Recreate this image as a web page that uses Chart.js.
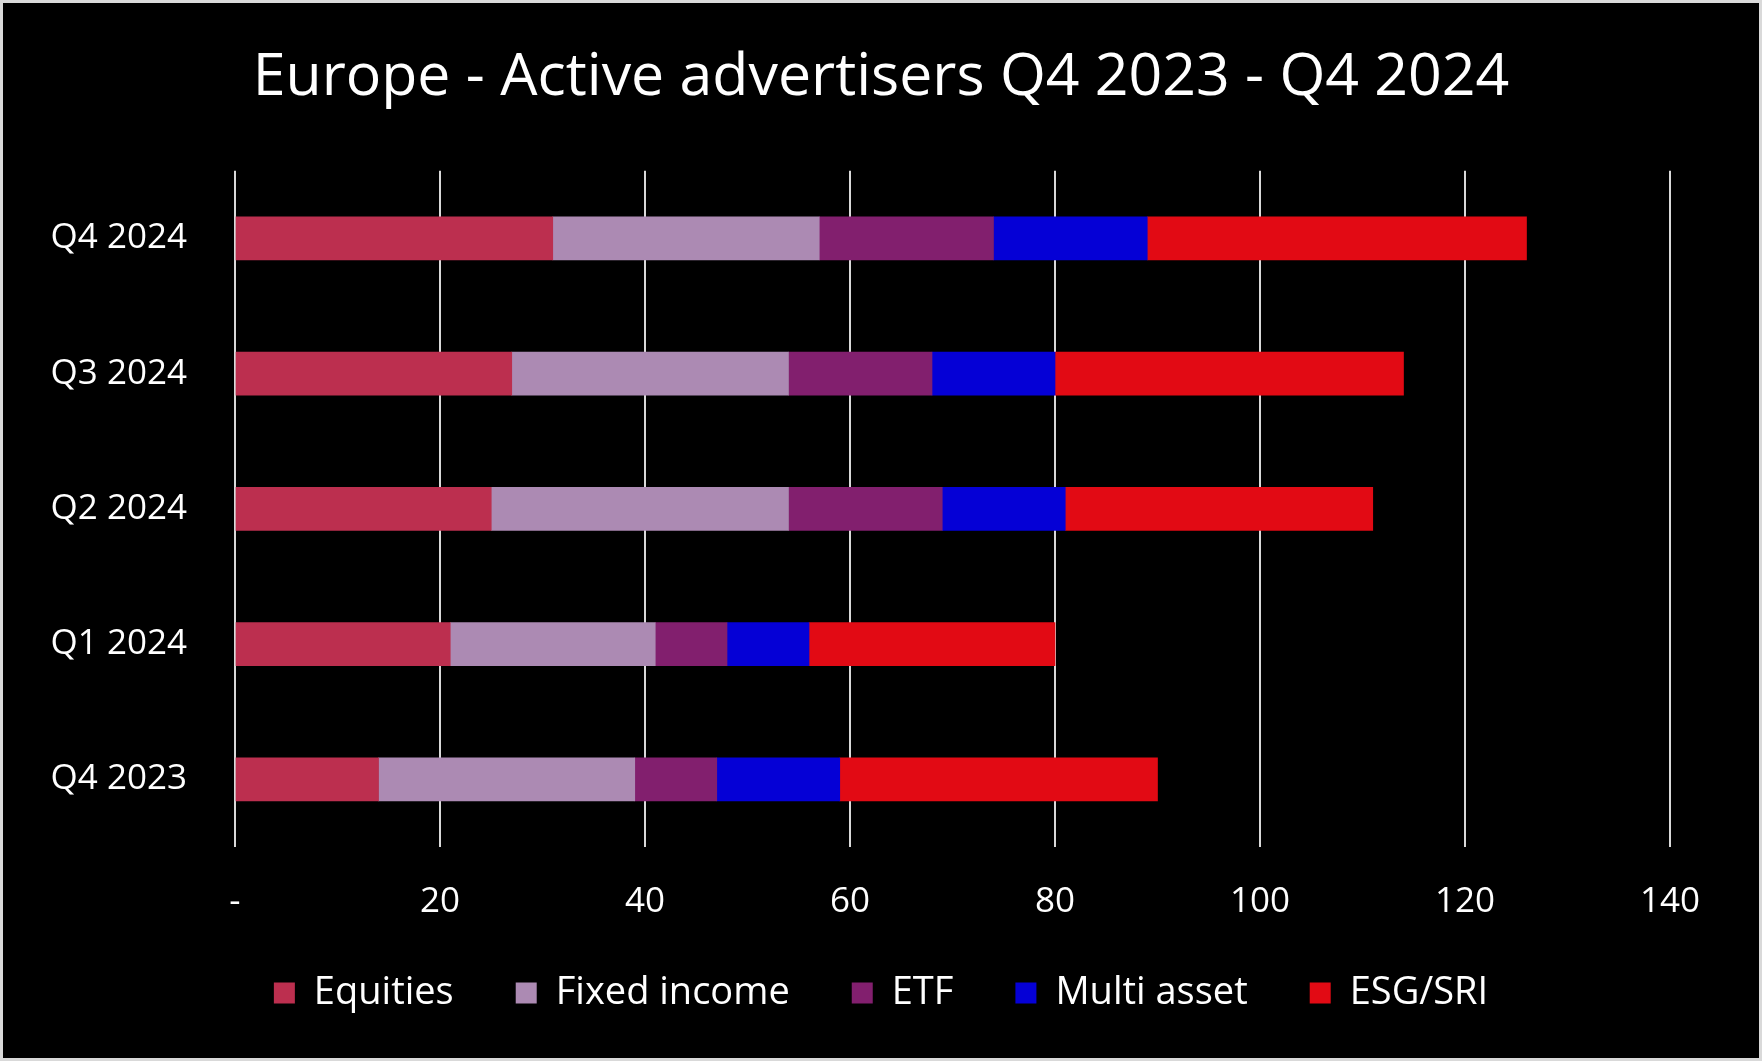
<!DOCTYPE html>
<html>
<head>
<meta charset="utf-8">
<script src="https://cdn.jsdelivr.net/npm/chart.js@4"></script>
<style>
  html, body { margin: 0; padding: 0; background: #000; }
  #wrap { width: 1762px; height: 1061px; position: relative; }
</style>
</head>
<body>
<div id="wrap"><canvas id="c" width="1762" height="1061"></canvas></div>
<script>
const categories = ["Q4 2024", "Q3 2024", "Q2 2024", "Q1 2024", "Q4 2023"];
const seriesNames = ["Equities", "Fixed income", "ETF", "Multi asset", "ESG/SRI"];
const equities    = [31, 27, 25, 21, 14];
const fixedIncome = [26, 27, 29, 20, 25];
const etf         = [17, 14, 15, 7, 8];
const multiAsset  = [15, 12, 12, 8, 12];
const esgSri      = [37, 34, 30, 24, 31];
const xTicks = [0, 20, 40, 60, 80, 100, 120, 140];
const title = "Europe - Active advertisers Q4 2023 - Q4 2024";

const colors = ["#BC2F4F", "#AC8AB3", "#821F6E", "#0500D6", "#E20A14"];
const values = [equities, fixedIncome, etf, multiAsset, esgSri];

const FONT = "'Open Sans', sans-serif";

const bgPlugin = {
  id: 'bg',
  beforeDraw(chart) {
    const ctx = chart.ctx;
    ctx.save();
    ctx.fillStyle = '#000';
    ctx.fillRect(0, 0, chart.width, chart.height);
    ctx.strokeStyle = '#d9d9d9';
    ctx.lineWidth = 3;
    ctx.strokeRect(1.5, 1.5, chart.width - 3, chart.height - 3);
    ctx.restore();
  }
};

new Chart(document.getElementById('c'), {
  type: 'bar',
  data: {
    labels: categories,
    datasets: seriesNames.map((n, i) => ({
      label: n,
      data: values[i],
      backgroundColor: colors[i],
      borderWidth: 0,
      barThickness: 43
    }))
  },
  options: {
    indexAxis: 'y',
    responsive: false,
    animation: false,
    layout: { padding: { left: 20, right: 20, top: 10, bottom: 39 } },
    plugins: {
      title: {
        display: true,
        text: title,
        color: '#fff',
        font: { family: FONT, size: 59, weight: 'normal' },
        padding: { top: 33, bottom: 57 }
      },
      legend: {
        position: 'bottom',
        labels: {
          color: '#fff',
          font: { family: FONT, size: 38 },
          boxWidth: 21,
          boxHeight: 21,
          padding: 62
        }
      },
      tooltip: { enabled: false }
    },
    scales: {
      x: {
        stacked: true,
        min: 0, max: 140,
        afterBuildTicks(scale) { scale.ticks = xTicks.map(v => ({ value: v })); },
        afterFit(scale) { scale.height = 65; },
        ticks: {
          color: '#fff',
          font: { family: FONT, size: 35 },
          padding: 34,
          callback: v => v === 0 ? '-' : String(v)
        },
        grid: { color: '#d9d9d9', lineWidth: 2, drawTicks: false },
        border: { display: false }
      },
      y: {
        stacked: true,
        afterFit(scale) { scale.width = 215; },
        ticks: {
          color: '#fff',
          font: { family: FONT, size: 35 },
          padding: 48
        },
        grid: { display: false, drawTicks: false },
        border: { display: false }
      },
      yRight: {
        type: 'linear',
        position: 'right',
        display: true,
        afterFit(scale) { scale.width = 72; },
        ticks: { display: false },
        grid: { display: false, drawTicks: false },
        border: { display: false }
      }
    }
  },
  plugins: [bgPlugin]
});
</script>
</body>
</html>
